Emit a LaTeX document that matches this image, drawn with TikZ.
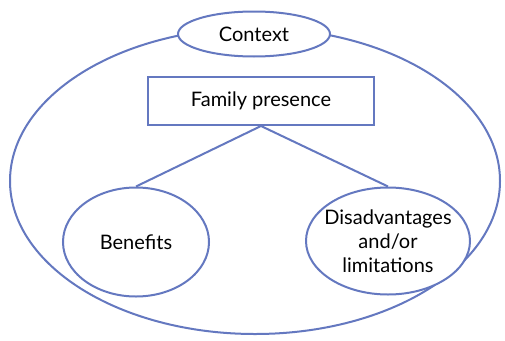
\documentclass[tikz,border=0pt]{standalone}
\usepackage{fontspec}
\setmainfont{Lato}
\usetikzlibrary{shapes.geometric}
\definecolor{lineblue}{RGB}{100,120,192}
\begin{document}
\begin{tikzpicture}[x=1pt,y=-1pt,
  shp/.style={draw=lineblue,line width=2pt,fill=white,inner sep=0pt},
  lbl/.style={font=\fontsize{20}{24}\selectfont,text=black,align=center,inner sep=0pt}]
\useasboundingbox (0,0) rectangle (505,340);
\node[shp,ellipse,minimum width=490,minimum height=306] (ctx) at (255,181) {};
\node[shp,ellipse,minimum width=152,minimum height=45] (context) at (254,34) {};
\node[lbl] (contextl) at (context.center) {Context};
\node[shp,rectangle,minimum width=226,minimum height=48] (fam) at (261,101) {};
\node[lbl] (faml) at (fam.center) {Family presence};
\node[shp,ellipse,minimum width=146,minimum height=109] (ben) at (136,242) {};
\node[lbl] (benl) at (ben.center) {Benefits};
\node[shp,ellipse,minimum width=164,minimum height=107] (dis) at (388,241) {};
\node[lbl] (disl) at (dis.center) {Disadvantages\\and/or\\limitations};
\draw[draw=lineblue,line width=2pt] (ben.north) -- (fam.south) -- (dis.north);
\end{tikzpicture}
\end{document}
